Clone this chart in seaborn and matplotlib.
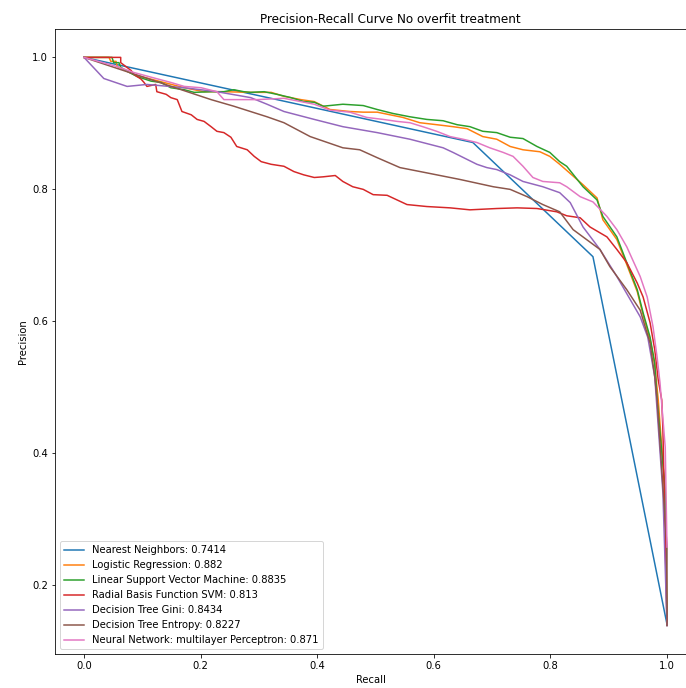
import matplotlib
matplotlib.use("Agg")
import matplotlib.pyplot as plt
import seaborn as sns
import pandas as pd

labels = [
    "Nearest Neighbors: 0.7414",
    "Logistic Regression: 0.882",
    "Linear Support Vector Machine: 0.8835",
    "Radial Basis Function SVM: 0.813",
    "Decision Tree Gini: 0.8434",
    "Decision Tree Entropy: 0.8227",
    "Neural Network: multilayer Perceptron: 0.871",
]

knn_recall = [0.0, 0.667, 0.873, 1.0]
knn_precision = [1.0, 0.871, 0.698, 0.141]

logreg_recall = [0.0, 0.043, 0.046, 0.055, 0.057, 0.086, 0.115, 0.137, 0.172, 0.206, 0.240, 0.286,
                 0.321, 0.343, 0.372, 0.395, 0.422, 0.456, 0.479, 0.503, 0.525, 0.547, 0.576,
                 0.605, 0.633, 0.657, 0.684, 0.708, 0.731, 0.753, 0.782, 0.799, 0.816, 0.856,
                 0.880, 0.890, 0.914, 0.931, 0.949, 0.959, 0.971, 0.979, 0.985, 0.997, 1.0]
logreg_precision = [1.0, 1.0, 0.994, 0.994, 0.986, 0.974, 0.967, 0.962, 0.954, 0.948, 0.948, 0.947,
                    0.947, 0.941, 0.936, 0.933, 0.921, 0.918, 0.917, 0.917, 0.913, 0.909, 0.901,
                    0.898, 0.895, 0.892, 0.880, 0.876, 0.865, 0.860, 0.857, 0.850, 0.838, 0.807,
                    0.787, 0.754, 0.724, 0.686, 0.645, 0.610, 0.572, 0.534, 0.481, 0.337, 0.14]

lsvm_recall = [0.0, 0.048, 0.051, 0.060, 0.063, 0.074, 0.091, 0.115, 0.132, 0.149, 0.172, 0.189,
               0.218, 0.240, 0.257, 0.274, 0.286, 0.309, 0.331, 0.355, 0.377, 0.395, 0.410,
               0.444, 0.479, 0.503, 0.530, 0.559, 0.588, 0.616, 0.640, 0.662, 0.684, 0.708,
               0.731, 0.753, 0.777, 0.799, 0.816, 0.828, 0.856, 0.880, 0.890, 0.914, 0.931,
               0.949, 0.959, 0.971, 0.979, 0.983, 0.997, 1.0]
lsvm_precision = [1.0, 1.0, 0.992, 0.992, 0.985, 0.979, 0.971, 0.964, 0.962, 0.954, 0.951, 0.947,
                  0.948, 0.948, 0.951, 0.948, 0.947, 0.948, 0.944, 0.939, 0.933, 0.932, 0.926,
                  0.929, 0.927, 0.921, 0.915, 0.910, 0.906, 0.904, 0.898, 0.895, 0.888, 0.886,
                  0.879, 0.877, 0.865, 0.856, 0.842, 0.835, 0.804, 0.784, 0.759, 0.728, 0.689,
                  0.648, 0.613, 0.576, 0.537, 0.481, 0.344, 0.14]

rbf_recall = [0.0, 0.063, 0.063, 0.072, 0.081, 0.086, 0.098, 0.103, 0.108, 0.123, 0.125, 0.141,
              0.149, 0.160, 0.168, 0.184, 0.194, 0.206, 0.218, 0.228, 0.240, 0.252, 0.262,
              0.280, 0.292, 0.304, 0.321, 0.343, 0.360, 0.377, 0.395, 0.410, 0.431, 0.444,
              0.461, 0.479, 0.496, 0.520, 0.537, 0.554, 0.588, 0.628, 0.662, 0.708, 0.743,
              0.777, 0.811, 0.828, 0.851, 0.868, 0.897, 0.914, 0.931, 0.949, 0.959, 0.971,
              0.979, 0.985, 0.991, 0.993, 1.0]
rbf_precision = [1.0, 1.0, 0.992, 0.986, 0.980, 0.974, 0.967, 0.962, 0.956, 0.959, 0.948, 0.944,
                 0.939, 0.936, 0.918, 0.913, 0.906, 0.903, 0.895, 0.888, 0.886, 0.879, 0.865,
                 0.860, 0.850, 0.842, 0.838, 0.835, 0.827, 0.822, 0.818, 0.819, 0.821, 0.812,
                 0.804, 0.800, 0.792, 0.791, 0.784, 0.777, 0.774, 0.772, 0.769, 0.771, 0.772,
                 0.771, 0.766, 0.760, 0.757, 0.743, 0.728, 0.709, 0.689, 0.658, 0.637, 0.598,
                 0.557, 0.511, 0.481, 0.435, 0.14]

gini_recall = [0.0, 0.034, 0.074, 0.108, 0.172, 0.228, 0.286, 0.314, 0.343, 0.395, 0.444, 0.503,
               0.559, 0.616, 0.633, 0.674, 0.691, 0.708, 0.731, 0.753, 0.787, 0.816, 0.834,
               0.856, 0.885, 0.914, 0.954, 0.967, 0.979, 0.993, 1.0]
gini_precision = [1.0, 0.968, 0.956, 0.959, 0.954, 0.948, 0.939, 0.929, 0.918, 0.906, 0.895, 0.886,
                  0.876, 0.863, 0.856, 0.838, 0.833, 0.830, 0.822, 0.812, 0.804, 0.795, 0.780,
                  0.743, 0.709, 0.668, 0.607, 0.576, 0.516, 0.340, 0.139]

entropy_recall = [0.0, 0.218, 0.257, 0.314, 0.343, 0.388, 0.444, 0.473, 0.503, 0.542, 0.588, 0.645,
                  0.702, 0.731, 0.760, 0.787, 0.816, 0.839, 0.885, 0.902, 0.931, 0.954, 0.971,
                  0.979, 0.983, 1.0, 1.0]
entropy_precision = [1.0, 0.936, 0.926, 0.910, 0.901, 0.880, 0.863, 0.860, 0.848, 0.833, 0.825, 0.815,
                     0.804, 0.800, 0.789, 0.777, 0.766, 0.739, 0.709, 0.683, 0.648, 0.617, 0.567,
                     0.516, 0.481, 0.258, 0.139]

mlp_recall = [0.0, 0.057, 0.086, 0.115, 0.149, 0.172, 0.201, 0.228, 0.240, 0.297, 0.343, 0.395,
              0.422, 0.456, 0.485, 0.513, 0.537, 0.559, 0.581, 0.605, 0.628, 0.650, 0.674,
              0.696, 0.719, 0.736, 0.753, 0.770, 0.787, 0.816, 0.828, 0.851, 0.873, 0.897,
              0.914, 0.931, 0.954, 0.966, 0.976, 0.983, 0.988, 0.997, 1.0]
mlp_precision = [1.0, 0.986, 0.977, 0.970, 0.962, 0.956, 0.954, 0.948, 0.936, 0.936, 0.938, 0.929,
                 0.920, 0.917, 0.909, 0.906, 0.903, 0.901, 0.895, 0.888, 0.880, 0.876, 0.871,
                 0.863, 0.856, 0.850, 0.835, 0.818, 0.812, 0.810, 0.804, 0.789, 0.781, 0.759,
                 0.739, 0.713, 0.668, 0.637, 0.592, 0.546, 0.507, 0.409, 0.258]

series = [
    (knn_recall, knn_precision),
    (logreg_recall, logreg_precision),
    (lsvm_recall, lsvm_precision),
    (rbf_recall, rbf_precision),
    (gini_recall, gini_precision),
    (entropy_recall, entropy_precision),
    (mlp_recall, mlp_precision),
]

plt.rcParams["font.family"] = ["DejaVu Sans"]
palette = sns.color_palette("tab10")

W, H = 686, 688
fig = plt.figure(figsize=(W / 72, H / 72), dpi=72)
# axes runs to the right edge of the (cropped) picture
ax = fig.add_axes([55 / W, (H - 654) / H, (W - 55) / W, (654 - 29) / H])

for i, (lab, (r, p)) in enumerate(zip(labels, series)):
    df = pd.DataFrame({"Recall": r, "Precision": p})
    sns.lineplot(data=df, x="Recall", y="Precision", sort=False, estimator=None,
                 color=palette[i], label=lab, linewidth=1.5, ax=ax)

ax.set_xlim(-0.0497, 1.0326)
ax.set_ylim(0.096, 1.043)
ax.set_xticks([0.0, 0.2, 0.4, 0.6, 0.8, 1.0])
ax.set_yticks([0.2, 0.4, 0.6, 0.8, 1.0])
ax.spines["right"].set_visible(False)
ax.set_xlabel("Recall")
ax.set_ylabel("Precision")
ax.set_title("Precision-Recall Curve No overfit treatment", x=0.531)
ax.legend(loc="lower left")

fig.savefig("out.png", dpi=72)
